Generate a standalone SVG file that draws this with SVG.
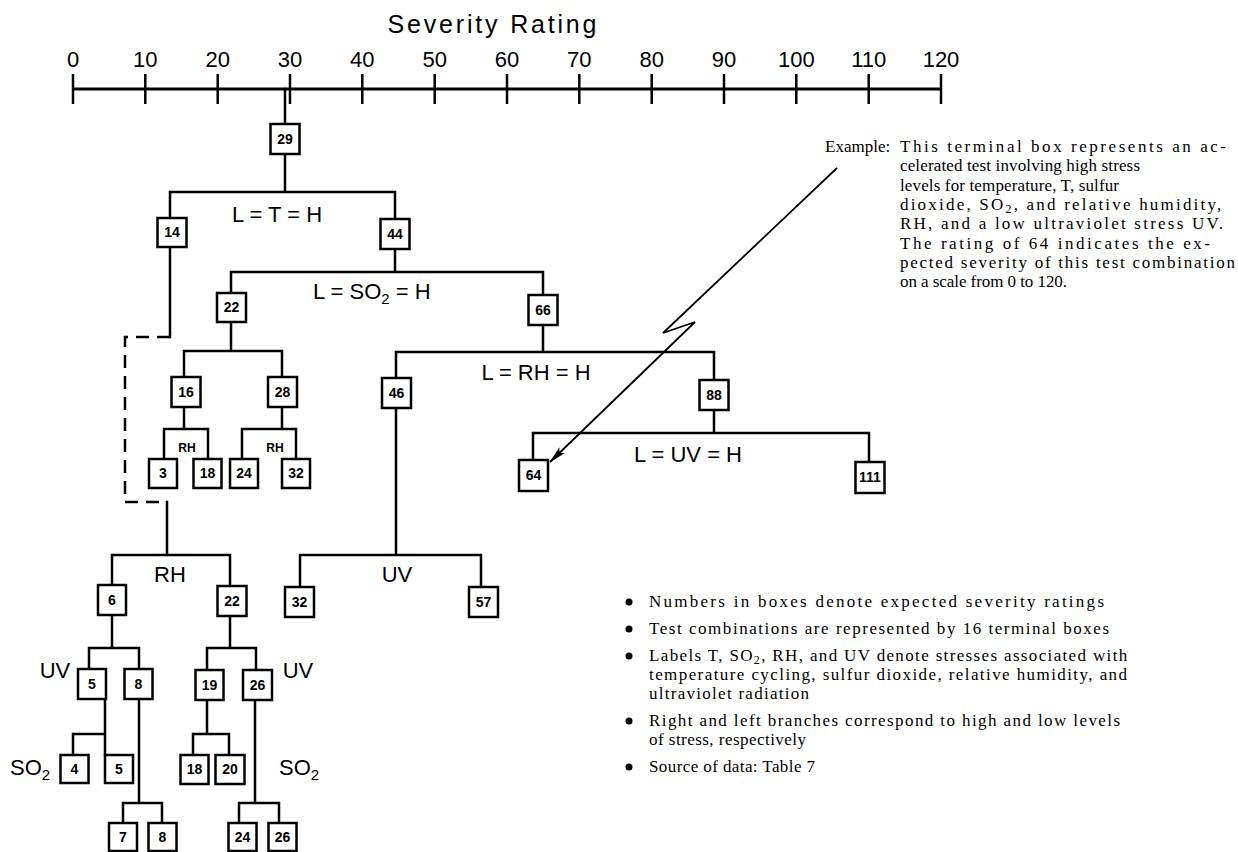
<svg xmlns="http://www.w3.org/2000/svg" width="1238" height="852" viewBox="0 0 1238 852">
<style>
.ln{stroke:#000;stroke-width:2.5;fill:none;stroke-linecap:square}
.dash{stroke:#000;stroke-width:2.5;fill:none;stroke-dasharray:13 8}
.bx{fill:#fff;stroke:#000;stroke-width:2.5}
.num{font-family:"Liberation Sans",Arial,sans-serif;font-weight:bold;font-size:14px;text-anchor:middle}
.lab{font-family:"Liberation Sans",Arial,sans-serif;font-size:22px}
.sm{font-family:"Liberation Sans",Arial,sans-serif;font-weight:bold;font-size:12px;text-anchor:middle}
.ax{font-family:"Liberation Sans",Arial,sans-serif;font-size:22px;text-anchor:middle}
.note{font-family:"Liberation Serif","Times New Roman",serif;font-size:17px}
</style>
<defs>
<marker id="ah" markerUnits="userSpaceOnUse" markerWidth="18" markerHeight="8" viewBox="0 0 18 8" refX="17" refY="4" orient="auto">
<path d="M0,0 L18,4 L0,8 L4,4 z" fill="#000"/>
</marker>
</defs>
<rect width="1238" height="852" fill="#fff"/>

<g id="axis">
<text x="492" y="33" font-family="Liberation Sans, Arial, sans-serif" font-size="25" text-anchor="middle" textLength="209" lengthAdjust="spacing">Severity Rating</text>
<line x1="73" y1="89" x2="941" y2="89" stroke="#000" stroke-width="3"/>
<g stroke="#000" stroke-width="2.5">
<line x1="73" y1="74" x2="73" y2="104"/><line x1="145.3" y1="74" x2="145.3" y2="104"/><line x1="217.7" y1="74" x2="217.7" y2="104"/><line x1="290" y1="74" x2="290" y2="104"/><line x1="362.3" y1="74" x2="362.3" y2="104"/><line x1="434.7" y1="74" x2="434.7" y2="104"/><line x1="507" y1="74" x2="507" y2="104"/><line x1="579.3" y1="74" x2="579.3" y2="104"/><line x1="651.7" y1="74" x2="651.7" y2="104"/><line x1="724" y1="74" x2="724" y2="104"/><line x1="796.3" y1="74" x2="796.3" y2="104"/><line x1="868.7" y1="74" x2="868.7" y2="104"/><line x1="941" y1="74" x2="941" y2="104"/>
</g>
<text class="ax" x="73" y="67">0</text><text class="ax" x="145.3" y="67">10</text><text class="ax" x="217.7" y="67">20</text><text class="ax" x="290" y="67">30</text><text class="ax" x="362.3" y="67">40</text><text class="ax" x="434.7" y="67">50</text><text class="ax" x="507" y="67">60</text><text class="ax" x="579.3" y="67">70</text><text class="ax" x="651.7" y="67">80</text><text class="ax" x="724" y="67">90</text><text class="ax" x="796.3" y="67">100</text><text class="ax" x="868.7" y="67">110</text><text class="ax" x="941" y="67">120</text>
</g>

<g id="connectors">
<path class="ln" d="M285,89 V124 M285,154 V192 M170,192 H395 M170,192 V218 M395,192 V219"/>
<path class="ln" d="M170,247 V337"/>
<path class="dash" d="M170,337 H125 V502 H167"/>
<path class="ln" d="M167,502 V555 M112,555 H230 M112,555 V585 M230,555 V586"/>
<path class="ln" d="M112,615 V648 M89,648 H139 M89,648 V669 M139,648 V669"/>
<path class="ln" d="M105,699 V755 M73,734 H105 M73,734 V755"/>
<path class="ln" d="M139,699 V803 M123,803 H162 M123,803 V823 M162,803 V823"/>
<path class="ln" d="M230,616 V648 M207,648 H256 M207,648 V670 M256,648 V670"/>
<path class="ln" d="M207,700 V734 M193,734 H229 M193,734 V755 M229,734 V755"/>
<path class="ln" d="M255,700 V803 M239,803 H279 M239,803 V823 M279,803 V823"/>
<path class="ln" d="M395,249 V272 M231,272 H543 M231,272 V293 M543,272 V295"/>
<path class="ln" d="M231,322 V351 M184,351 H282 M184,351 V377 M282,351 V377"/>
<path class="ln" d="M184,407 V429 M164,429 H208 M164,429 V459 M208,429 V459"/>
<path class="ln" d="M282,407 V429 M242,429 H296 M242,429 V459 M296,429 V459"/>
<path class="ln" d="M543,325 V352 M396,352 H714 M396,352 V378 M714,352 V380"/>
<path class="ln" d="M396,408 V555 M300,555 H481 M300,555 V587 M481,555 V587"/>
<path class="ln" d="M714,410 V433 M533,433 H869 M533,433 V460 M869,433 V462"/>
<path d="M837,168 L663,333 L695,322 L550,462" fill="none" stroke="#000" stroke-width="1.8" marker-end="url(#ah)"/>
</g>

<g id="labels">
<text class="lab" x="277" y="222" text-anchor="middle">L = T = H</text>
<text class="lab" x="313" y="299">L = SO<tspan font-size="15" dy="5">2</tspan><tspan dy="-5"> = H</tspan></text>
<text class="lab" x="536" y="380" text-anchor="middle">L = RH = H</text>
<text class="lab" x="688" y="462" text-anchor="middle">L = UV = H</text>
<text class="lab" x="170" y="582" text-anchor="middle">RH</text>
<text class="lab" x="397" y="582" text-anchor="middle">UV</text>
<text class="lab" x="55" y="678" text-anchor="middle">UV</text>
<text class="lab" x="298" y="678" text-anchor="middle">UV</text>
<text class="lab" x="10" y="775">SO<tspan font-size="15" dy="5">2</tspan></text>
<text class="lab" x="279" y="775">SO<tspan font-size="15" dy="5">2</tspan></text>
<text class="sm" x="187" y="452">RH</text>
<text class="sm" x="275" y="452">RH</text>
</g>

<g id="n29"><rect class="bx" x="270.5" y="124" width="29" height="30"/><text class="num" x="285" y="144">29</text></g>
<g id="n14"><rect class="bx" x="157.5" y="218" width="29" height="29"/><text class="num" x="172" y="237">14</text></g>
<g id="n44"><rect class="bx" x="380.5" y="219" width="29" height="30"/><text class="num" x="395" y="239">44</text></g>
<g id="n22a"><rect class="bx" x="217" y="293" width="29" height="29"/><text class="num" x="231.5" y="312">22</text></g>
<g id="n66"><rect class="bx" x="528.5" y="295" width="29" height="30"/><text class="num" x="543" y="315">66</text></g>
<g id="n16"><rect class="bx" x="171.5" y="377" width="29" height="30"/><text class="num" x="186" y="397">16</text></g>
<g id="n28"><rect class="bx" x="268" y="377" width="29" height="30"/><text class="num" x="282.5" y="397">28</text></g>
<g id="n3"><rect class="bx" x="149" y="459" width="28" height="29"/><text class="num" x="163" y="478">3</text></g>
<g id="n18a"><rect class="bx" x="193.5" y="459" width="28" height="29"/><text class="num" x="207.5" y="478">18</text></g>
<g id="n24a"><rect class="bx" x="230" y="459" width="28" height="29"/><text class="num" x="244" y="478">24</text></g>
<g id="n32a"><rect class="bx" x="282" y="459" width="28" height="29"/><text class="num" x="296" y="478">32</text></g>
<g id="n46"><rect class="bx" x="382" y="378" width="29" height="30"/><text class="num" x="396.5" y="398">46</text></g>
<g id="n88"><rect class="bx" x="699.5" y="380" width="29" height="30"/><text class="num" x="714" y="400">88</text></g>
<g id="n64"><rect class="bx" x="519" y="460" width="29" height="31"/><text class="num" x="533.5" y="480">64</text></g>
<g id="n111"><rect class="bx" x="855.5" y="462" width="29" height="31"/><text class="num" x="870" y="482">111</text></g>
<g id="n32b"><rect class="bx" x="285" y="587" width="29" height="30"/><text class="num" x="299.5" y="607">32</text></g>
<g id="n57"><rect class="bx" x="469" y="587" width="29" height="30"/><text class="num" x="483.5" y="607">57</text></g>
<g id="n6"><rect class="bx" x="98" y="585" width="28" height="30"/><text class="num" x="112" y="605">6</text></g>
<g id="n22b"><rect class="bx" x="217.5" y="586" width="29" height="30"/><text class="num" x="232" y="606">22</text></g>
<g id="n5a"><rect class="bx" x="78" y="669" width="28" height="30"/><text class="num" x="92" y="689">5</text></g>
<g id="n8a"><rect class="bx" x="124.5" y="669" width="28" height="30"/><text class="num" x="138.5" y="689">8</text></g>
<g id="n19"><rect class="bx" x="195.5" y="670" width="28" height="30"/><text class="num" x="209.5" y="690">19</text></g>
<g id="n26a"><rect class="bx" x="243" y="670" width="29" height="30"/><text class="num" x="257.5" y="690">26</text></g>
<g id="n4"><rect class="bx" x="60.5" y="755" width="28" height="28"/><text class="num" x="74.5" y="774">4</text></g>
<g id="n5b"><rect class="bx" x="105" y="755" width="28" height="28"/><text class="num" x="119" y="774">5</text></g>
<g id="n18b"><rect class="bx" x="180.5" y="755" width="28" height="29"/><text class="num" x="194.5" y="774">18</text></g>
<g id="n20"><rect class="bx" x="215.5" y="755" width="29" height="29"/><text class="num" x="230" y="774">20</text></g>
<g id="n7"><rect class="bx" x="109" y="823" width="28" height="28"/><text class="num" x="123" y="842">7</text></g>
<g id="n8b"><rect class="bx" x="148.5" y="823" width="28" height="28"/><text class="num" x="162.5" y="842">8</text></g>
<g id="n24b"><rect class="bx" x="228.5" y="823" width="28" height="28"/><text class="num" x="242.5" y="842">24</text></g>
<g id="n26b"><rect class="bx" x="268.5" y="823" width="28" height="28"/><text class="num" x="282.5" y="842">26</text></g>

<g id="example" class="note">
<text x="825" y="152">Example:</text>
<text x="900" y="152" textLength="326" lengthAdjust="spacing">This terminal box represents an ac-</text>
<text x="900" y="171" textLength="240" lengthAdjust="spacing">celerated test involving high stress</text>
<text x="900" y="191" textLength="219" lengthAdjust="spacing">levels for temperature, T, sulfur</text>
<text x="900" y="210" letter-spacing="2.2">dioxide, SO<tspan font-size="12" dy="3">2</tspan><tspan dy="-3">, and relative humidity,</tspan></text>
<text x="900" y="229" textLength="323" lengthAdjust="spacing">RH, and a low ultraviolet stress UV.</text>
<text x="900" y="249" textLength="310" lengthAdjust="spacing">The rating of 64 indicates the ex-</text>
<text x="900" y="268" textLength="335" lengthAdjust="spacing">pected severity of this test combination</text>
<text x="900" y="287" textLength="167" lengthAdjust="spacing">on a scale from 0 to 120.</text>
</g>

<g id="notes" class="note">
<circle cx="629" cy="602" r="3.5"/><text x="649" y="607" textLength="455" lengthAdjust="spacing">Numbers in boxes denote expected severity ratings</text>
<circle cx="629" cy="629" r="3.5"/><text x="649" y="634" textLength="460" lengthAdjust="spacing">Test combinations are represented by 16 terminal boxes</text>
<circle cx="629" cy="656" r="3.5"/><text x="649" y="661" letter-spacing="1.35">Labels T, SO<tspan font-size="12" dy="3">2</tspan><tspan dy="-3">, RH, and UV denote stresses associated with</tspan></text>
<text x="649" y="680" textLength="478" lengthAdjust="spacing">temperature cycling, sulfur dioxide, relative humidity, and</text>
<text x="649" y="699" textLength="160" lengthAdjust="spacing">ultraviolet radiation</text>
<circle cx="629" cy="721" r="3.5"/><text x="649" y="726" textLength="471" lengthAdjust="spacing">Right and left branches correspond to high and low levels</text>
<text x="649" y="745" textLength="157" lengthAdjust="spacing">of stress, respectively</text>
<circle cx="629" cy="767" r="3.5"/><text x="649" y="772" textLength="166" lengthAdjust="spacing">Source of data:  Table 7</text>
</g>
</svg>
